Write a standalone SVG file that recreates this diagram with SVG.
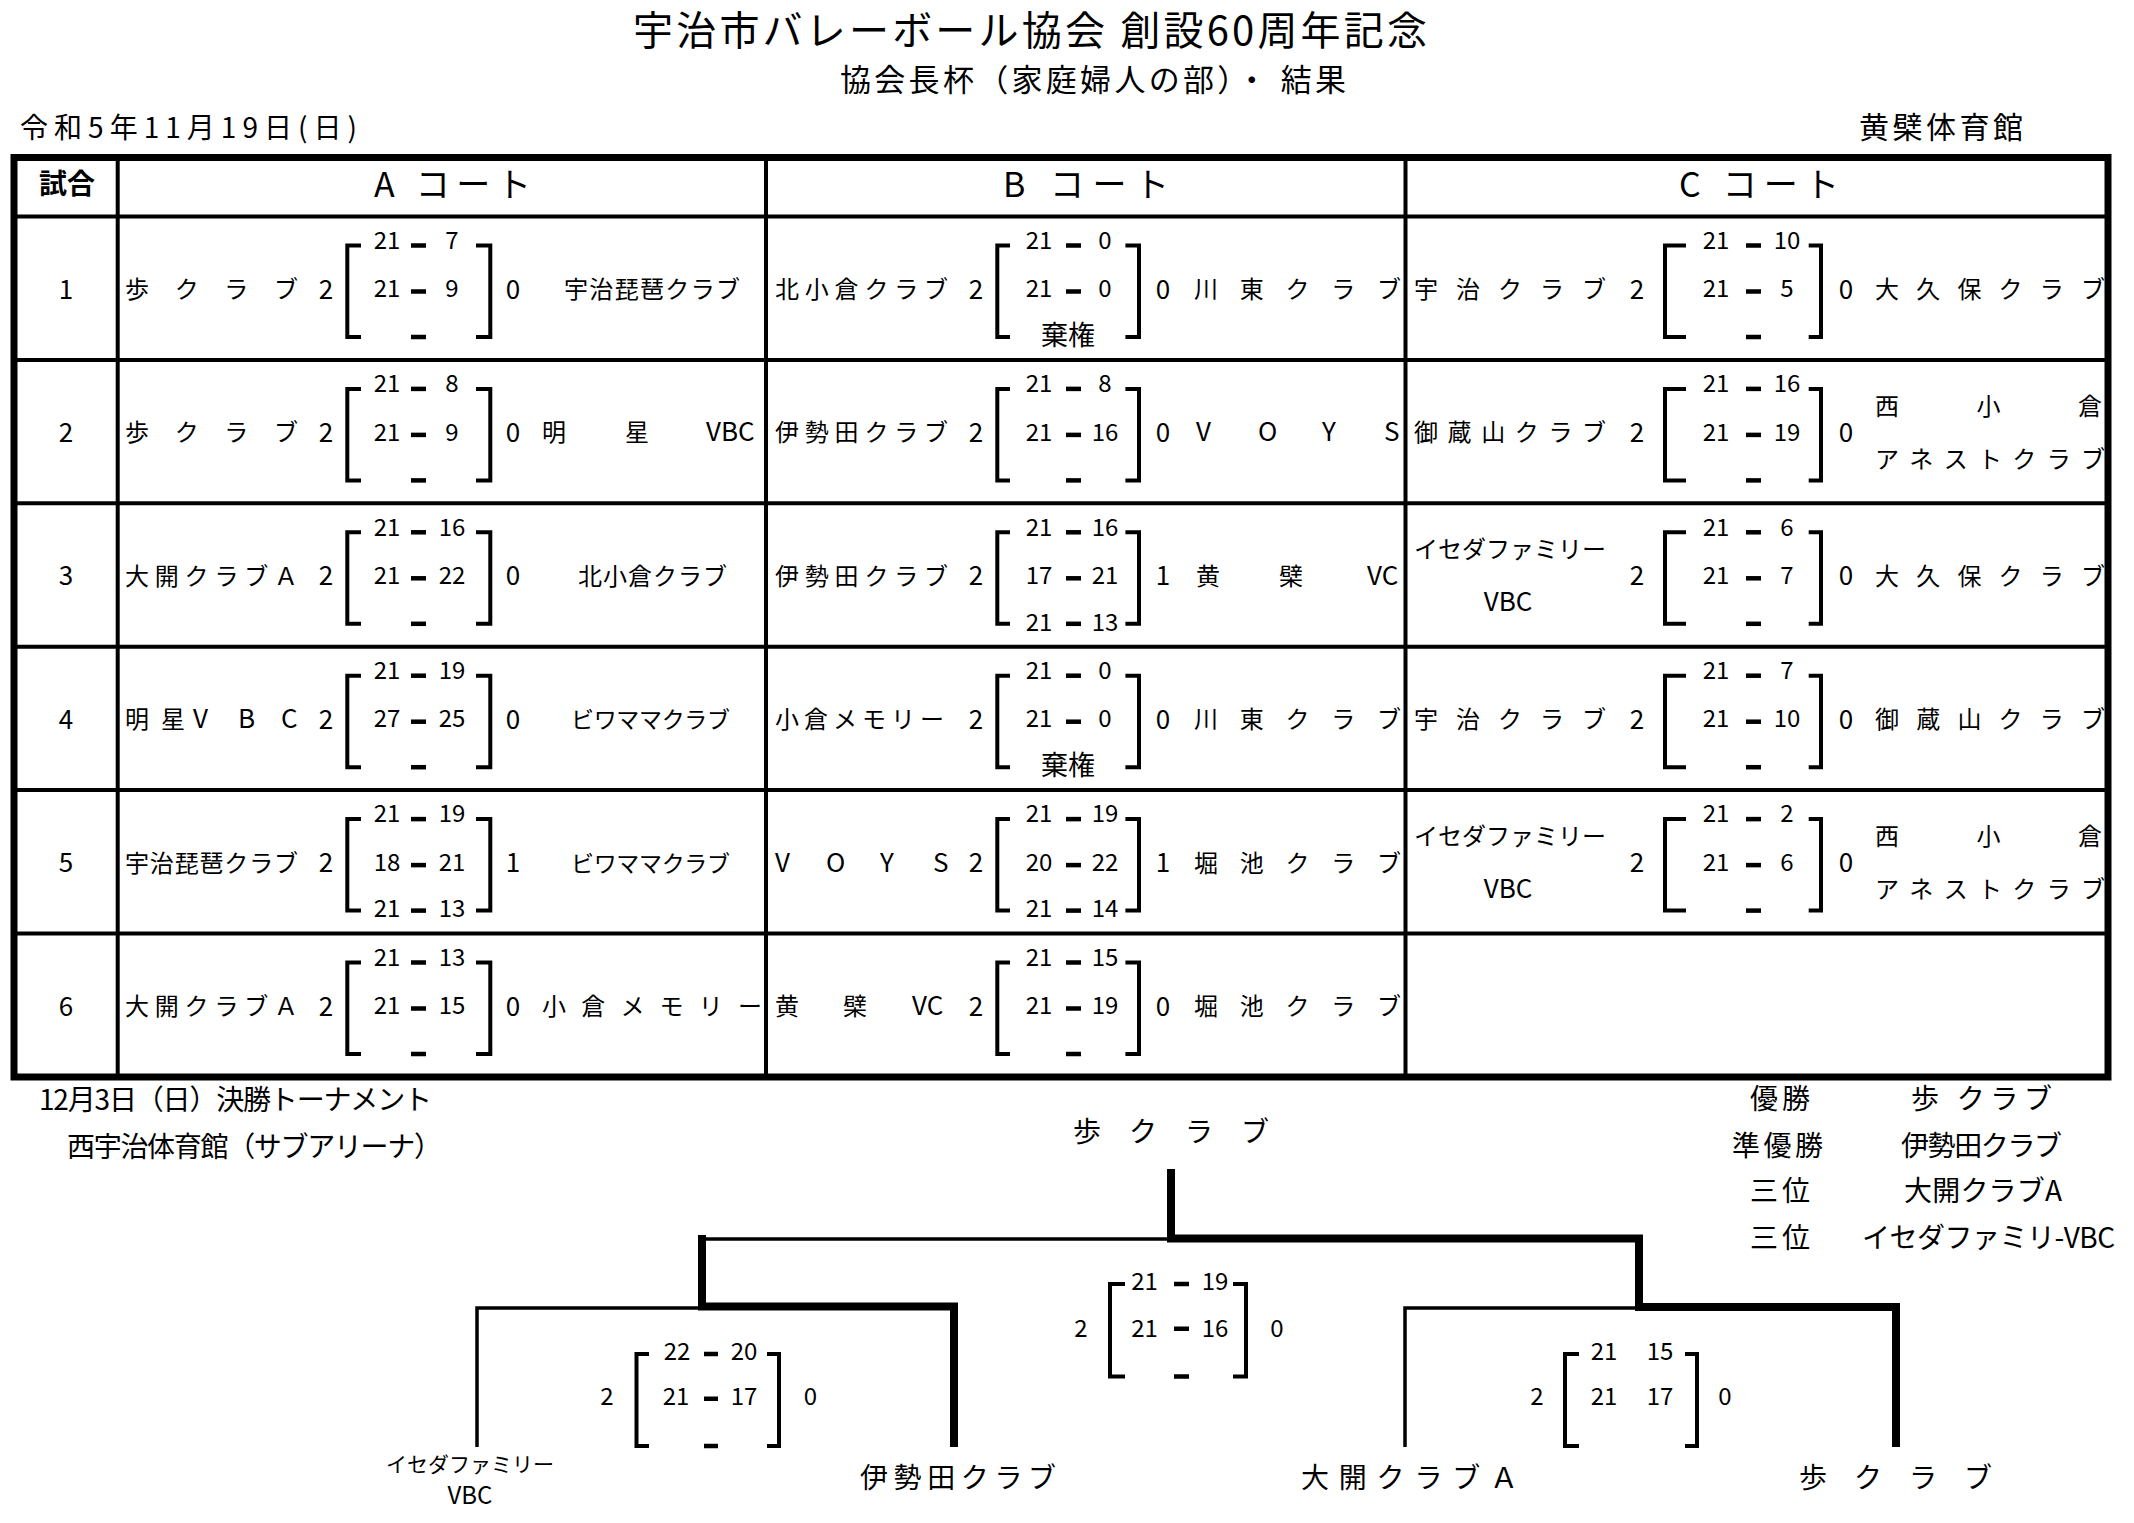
<svg xmlns="http://www.w3.org/2000/svg" xmlns:xlink="http://www.w3.org/1999/xlink" width="2134" height="1523" viewBox="0 0 2134 1523">
<style>
text{font-family:"Noto Sans CJK JP","Liberation Sans",sans-serif;fill:#000}
.nm{font-size:24px}
.sc{font-size:24px;text-anchor:middle}
.rs{font-size:26px;text-anchor:middle}
.lat{font-size:26px}
.br{fill:none;stroke:#000;stroke-width:4}
.d{fill:#000}
.grid{stroke:#000;stroke-width:4;fill:none}
.outer{stroke:#000;stroke-width:7;fill:none}
.thin{fill:none;stroke:#000;stroke-width:3.5}
.thick{fill:none;stroke:#000;stroke-width:8;stroke-linecap:square}
.hd{font-size:34px}
.bt{font-size:28px}
</style>
<defs>
<rect id="dash" class="d" width="15" height="4.5"/>
<path id="brA" class="br" d="M361 29H347.3V120.5H361M476 29H490.3V120.5H476"/>
<path id="brB" class="br" d="M1010 29H997.3V120.5H1010M1125.4 29H1139V120.5H1125.4"/>
<path id="brC" class="br" d="M1686 29H1665V120.5H1686M1808.7 29H1821V120.5H1808.7"/>
</defs>
<rect width="2134" height="1523" fill="#fff"/>

<g id="titles">
<text x="633" y="45" style="font-size:40px" textLength="794">宇治市バレーボール協会 創設60周年記念</text>
<text x="840" y="90.8" style="font-size:31px" textLength="506">協会長杯（家庭婦人の部）・ 結果</text>
<text x="20" y="137.6" class="bt" textLength="337">令和5年11月19日(日)</text>
<text x="1859" y="138" style="font-size:30px" textLength="164">黄檗体育館</text>
</g>

<g id="table-grid">
<rect class="outer" x="14" y="157.5" width="2094" height="919.5"/>
<path class="grid" d="M14 216.5H2108M14 359.9H2108M14 503.3H2108M14 646.7H2108M14 790.1H2108M14 933.5H2108M117.7 157.5V1077M766 157.5V1077M1405.5 157.5V1077"/>
</g>

<g id="header">
<text x="67" y="193.5" style="font-size:28px;font-weight:bold" text-anchor="middle">試合</text>
<text x="374" y="197" class="hd" textLength="157">A コート</text>
<text x="1003" y="197" class="hd" textLength="166">B コート</text>
<text x="1679" y="197" class="hd" textLength="160">C コート</text>
</g>

<g id="row1" transform="translate(0,216.5)">
<text class="rs" x="66" y="82">1</text>
<g id="m-A1">
<text class="nm" x="125" y="81.6" textLength="173">歩クラブ</text>
<text class="rs" x="326" y="82">2</text>
<use xlink:href="#brA"/>
<text class="sc" x="387" y="32.3">21</text><use xlink:href="#dash" x="411" y="26.75"/><text class="sc" x="452" y="32.3">7</text>
<text class="sc" x="387" y="80.8">21</text><use xlink:href="#dash" x="411" y="72.75"/><text class="sc" x="452" y="80.8">9</text>
<use xlink:href="#dash" x="411" y="118.25"/>
<text class="rs" x="513" y="82">0</text>
<text class="nm" x="564" y="81.6" textLength="176">宇治琵琶クラブ</text>
</g>
<g id="m-B1">
<text class="nm" x="775" y="81.6" textLength="173">北小倉クラブ</text>
<text class="rs" x="976" y="82">2</text>
<use xlink:href="#brB"/>
<text class="sc" x="1039" y="32.3">21</text><use xlink:href="#dash" x="1066" y="26.75"/><text class="sc" x="1105" y="32.3">0</text>
<text class="sc" x="1039" y="80.8">21</text><use xlink:href="#dash" x="1066" y="72.75"/><text class="sc" x="1105" y="80.8">0</text>
<text x="1068" y="128.3" style="font-size:27px" text-anchor="middle">棄権</text>
<text class="rs" x="1163" y="82">0</text>
<text class="nm" x="1194" y="81.6" textLength="207">川東クラブ</text>
</g>
<g id="m-C1">
<text class="nm" x="1414" y="81.6" textLength="192">宇治クラブ</text>
<text class="rs" x="1637" y="82">2</text>
<use xlink:href="#brC"/>
<text class="sc" x="1716" y="32.3">21</text><use xlink:href="#dash" x="1746" y="26.75"/><text class="sc" x="1787" y="32.3">10</text>
<text class="sc" x="1716" y="80.8">21</text><use xlink:href="#dash" x="1746" y="72.75"/><text class="sc" x="1787" y="80.8">5</text>
<use xlink:href="#dash" x="1746" y="118.25"/>
<text class="rs" x="1846" y="82">0</text>
<text class="nm" x="1875" y="81.6" textLength="230">大久保クラブ</text>
</g>
</g>

<g id="row2" transform="translate(0,359.9)">
<text class="rs" x="66" y="82">2</text>
<g id="m-A2">
<text class="nm" x="125" y="81.6" textLength="173">歩クラブ</text>
<text class="rs" x="326" y="82">2</text>
<use xlink:href="#brA"/>
<text class="sc" x="387" y="32.3">21</text><use xlink:href="#dash" x="411" y="26.75"/><text class="sc" x="452" y="32.3">8</text>
<text class="sc" x="387" y="80.8">21</text><use xlink:href="#dash" x="411" y="72.75"/><text class="sc" x="452" y="80.8">9</text>
<use xlink:href="#dash" x="411" y="118.25"/>
<text class="rs" x="513" y="82">0</text>
<text class="nm" x="542 625" y="81.6">明星<tspan class="lat" x="706">VBC</tspan></text>
</g>
<g id="m-B2">
<text class="nm" x="775" y="81.6" textLength="173">伊勢田クラブ</text>
<text class="rs" x="976" y="82">2</text>
<use xlink:href="#brB"/>
<text class="sc" x="1039" y="32.3">21</text><use xlink:href="#dash" x="1066" y="26.75"/><text class="sc" x="1105" y="32.3">8</text>
<text class="sc" x="1039" y="80.8">21</text><use xlink:href="#dash" x="1066" y="72.75"/><text class="sc" x="1105" y="80.8">16</text>
<use xlink:href="#dash" x="1066" y="118.25"/>
<text class="rs" x="1163" y="82">0</text>
<text class="lat" x="1196 1258 1322 1384" y="81.6">VOYS</text>
</g>
<g id="m-C2">
<text class="nm" x="1414" y="81.6" textLength="192">御蔵山クラブ</text>
<text class="rs" x="1637" y="82">2</text>
<use xlink:href="#brC"/>
<text class="sc" x="1716" y="32.3">21</text><use xlink:href="#dash" x="1746" y="26.75"/><text class="sc" x="1787" y="32.3">16</text>
<text class="sc" x="1716" y="80.8">21</text><use xlink:href="#dash" x="1746" y="72.75"/><text class="sc" x="1787" y="80.8">19</text>
<use xlink:href="#dash" x="1746" y="118.25"/>
<text class="rs" x="1846" y="82">0</text>
<text class="nm" x="1875" y="55" textLength="227">西小倉</text>
<text class="nm" x="1875" y="108" textLength="230">アネストクラブ</text>
</g>
</g>

<g id="row3" transform="translate(0,503.3)">
<text class="rs" x="66" y="82">3</text>
<g id="m-A3">
<text class="nm" x="125" y="81.6" textLength="173">大開クラブＡ</text>
<text class="rs" x="326" y="82">2</text>
<use xlink:href="#brA"/>
<text class="sc" x="387" y="32.3">21</text><use xlink:href="#dash" x="411" y="26.75"/><text class="sc" x="452" y="32.3">16</text>
<text class="sc" x="387" y="80.8">21</text><use xlink:href="#dash" x="411" y="72.75"/><text class="sc" x="452" y="80.8">22</text>
<use xlink:href="#dash" x="411" y="118.25"/>
<text class="rs" x="513" y="82">0</text>
<text class="nm" x="578" y="81.6" textLength="149">北小倉クラブ</text>
</g>
<g id="m-B3">
<text class="nm" x="775" y="81.6" textLength="173">伊勢田クラブ</text>
<text class="rs" x="976" y="82">2</text>
<use xlink:href="#brB"/>
<text class="sc" x="1039" y="32.3">21</text><use xlink:href="#dash" x="1066" y="26.75"/><text class="sc" x="1105" y="32.3">16</text>
<text class="sc" x="1039" y="80.8">17</text><use xlink:href="#dash" x="1066" y="72.75"/><text class="sc" x="1105" y="80.8">21</text>
<text class="sc" x="1039" y="127.3">21</text><use xlink:href="#dash" x="1066" y="118.25"/><text class="sc" x="1105" y="127.3">13</text>
<text class="rs" x="1163" y="82">1</text>
<text class="nm" x="1196 1279" y="81.6">黄檗<tspan class="lat" x="1367">VC</tspan></text>
</g>
<g id="m-C3">
<text class="nm" x="1414" y="55" textLength="192">イセダファミリー</text>
<text class="lat" x="1508" y="108" text-anchor="middle">VBC</text>
<text class="rs" x="1637" y="82">2</text>
<use xlink:href="#brC"/>
<text class="sc" x="1716" y="32.3">21</text><use xlink:href="#dash" x="1746" y="26.75"/><text class="sc" x="1787" y="32.3">6</text>
<text class="sc" x="1716" y="80.8">21</text><use xlink:href="#dash" x="1746" y="72.75"/><text class="sc" x="1787" y="80.8">7</text>
<use xlink:href="#dash" x="1746" y="118.25"/>
<text class="rs" x="1846" y="82">0</text>
<text class="nm" x="1875" y="81.6" textLength="230">大久保クラブ</text>
</g>
</g>

<g id="row4" transform="translate(0,646.7)">
<text class="rs" x="66" y="82">4</text>
<g id="m-A4">
<text class="nm" x="125 161" y="81.6">明星<tspan class="lat" x="193 238 281">VBC</tspan></text>
<text class="rs" x="326" y="82">2</text>
<use xlink:href="#brA"/>
<text class="sc" x="387" y="32.3">21</text><use xlink:href="#dash" x="411" y="26.75"/><text class="sc" x="452" y="32.3">19</text>
<text class="sc" x="387" y="80.8">27</text><use xlink:href="#dash" x="411" y="72.75"/><text class="sc" x="452" y="80.8">25</text>
<use xlink:href="#dash" x="411" y="118.25"/>
<text class="rs" x="513" y="82">0</text>
<text class="nm" x="571" y="81.6" style="font-size:23px" textLength="159">ビワママクラブ</text>
</g>
<g id="m-B4">
<text class="nm" x="775" y="81.6" textLength="169">小倉メモリー</text>
<text class="rs" x="976" y="82">2</text>
<use xlink:href="#brB"/>
<text class="sc" x="1039" y="32.3">21</text><use xlink:href="#dash" x="1066" y="26.75"/><text class="sc" x="1105" y="32.3">0</text>
<text class="sc" x="1039" y="80.8">21</text><use xlink:href="#dash" x="1066" y="72.75"/><text class="sc" x="1105" y="80.8">0</text>
<text x="1068" y="128.3" style="font-size:27px" text-anchor="middle">棄権</text>
<text class="rs" x="1163" y="82">0</text>
<text class="nm" x="1194" y="81.6" textLength="207">川東クラブ</text>
</g>
<g id="m-C4">
<text class="nm" x="1414" y="81.6" textLength="192">宇治クラブ</text>
<text class="rs" x="1637" y="82">2</text>
<use xlink:href="#brC"/>
<text class="sc" x="1716" y="32.3">21</text><use xlink:href="#dash" x="1746" y="26.75"/><text class="sc" x="1787" y="32.3">7</text>
<text class="sc" x="1716" y="80.8">21</text><use xlink:href="#dash" x="1746" y="72.75"/><text class="sc" x="1787" y="80.8">10</text>
<use xlink:href="#dash" x="1746" y="118.25"/>
<text class="rs" x="1846" y="82">0</text>
<text class="nm" x="1875" y="81.6" textLength="230">御蔵山クラブ</text>
</g>
</g>

<g id="row5" transform="translate(0,790.1)">
<text class="rs" x="66" y="82">5</text>
<g id="m-A5">
<text class="nm" x="125" y="81.6" textLength="173">宇治琵琶クラブ</text>
<text class="rs" x="326" y="82">2</text>
<use xlink:href="#brA"/>
<text class="sc" x="387" y="32.3">21</text><use xlink:href="#dash" x="411" y="26.75"/><text class="sc" x="452" y="32.3">19</text>
<text class="sc" x="387" y="80.8">18</text><use xlink:href="#dash" x="411" y="72.75"/><text class="sc" x="452" y="80.8">21</text>
<text class="sc" x="387" y="127.3">21</text><use xlink:href="#dash" x="411" y="118.25"/><text class="sc" x="452" y="127.3">13</text>
<text class="rs" x="513" y="82">1</text>
<text class="nm" x="571" y="81.6" style="font-size:23px" textLength="159">ビワママクラブ</text>
</g>
<g id="m-B5">
<text class="lat" x="775 826 880 933" y="81.6">VOYS</text>
<text class="rs" x="976" y="82">2</text>
<use xlink:href="#brB"/>
<text class="sc" x="1039" y="32.3">21</text><use xlink:href="#dash" x="1066" y="26.75"/><text class="sc" x="1105" y="32.3">19</text>
<text class="sc" x="1039" y="80.8">20</text><use xlink:href="#dash" x="1066" y="72.75"/><text class="sc" x="1105" y="80.8">22</text>
<text class="sc" x="1039" y="127.3">21</text><use xlink:href="#dash" x="1066" y="118.25"/><text class="sc" x="1105" y="127.3">14</text>
<text class="rs" x="1163" y="82">1</text>
<text class="nm" x="1194" y="81.6" textLength="207">堀池クラブ</text>
</g>
<g id="m-C5">
<text class="nm" x="1414" y="55" textLength="192">イセダファミリー</text>
<text class="lat" x="1508" y="108" text-anchor="middle">VBC</text>
<text class="rs" x="1637" y="82">2</text>
<use xlink:href="#brC"/>
<text class="sc" x="1716" y="32.3">21</text><use xlink:href="#dash" x="1746" y="26.75"/><text class="sc" x="1787" y="32.3">2</text>
<text class="sc" x="1716" y="80.8">21</text><use xlink:href="#dash" x="1746" y="72.75"/><text class="sc" x="1787" y="80.8">6</text>
<use xlink:href="#dash" x="1746" y="118.25"/>
<text class="rs" x="1846" y="82">0</text>
<text class="nm" x="1875" y="55" textLength="227">西小倉</text>
<text class="nm" x="1875" y="108" textLength="230">アネストクラブ</text>
</g>
</g>

<g id="row6" transform="translate(0,933.5)">
<text class="rs" x="66" y="82">6</text>
<g id="m-A6">
<text class="nm" x="125" y="81.6" textLength="173">大開クラブＡ</text>
<text class="rs" x="326" y="82">2</text>
<use xlink:href="#brA"/>
<text class="sc" x="387" y="32.3">21</text><use xlink:href="#dash" x="411" y="26.75"/><text class="sc" x="452" y="32.3">13</text>
<text class="sc" x="387" y="80.8">21</text><use xlink:href="#dash" x="411" y="72.75"/><text class="sc" x="452" y="80.8">15</text>
<use xlink:href="#dash" x="411" y="118.25"/>
<text class="rs" x="513" y="82">0</text>
<text class="nm" x="542" y="81.6" textLength="220">小倉メモリー</text>
</g>
<g id="m-B6">
<text class="nm" x="775 843" y="81.6">黄檗<tspan class="lat" x="912">VC</tspan></text>
<text class="rs" x="976" y="82">2</text>
<use xlink:href="#brB"/>
<text class="sc" x="1039" y="32.3">21</text><use xlink:href="#dash" x="1066" y="26.75"/><text class="sc" x="1105" y="32.3">15</text>
<text class="sc" x="1039" y="80.8">21</text><use xlink:href="#dash" x="1066" y="72.75"/><text class="sc" x="1105" y="80.8">19</text>
<use xlink:href="#dash" x="1066" y="118.25"/>
<text class="rs" x="1163" y="82">0</text>
<text class="nm" x="1194" y="81.6" textLength="207">堀池クラブ</text>
</g>
</g>

<g id="final-info">
<text x="39" y="1109.6" class="bt" textLength="393">12月3日（日）決勝トーナメント</text>
<text x="67" y="1156.6" class="bt" textLength="375">西宇治体育館（サブアリーナ）</text>
</g>

<g id="podium">
<text x="1750" y="1108.6" class="bt" textLength="60">優勝</text>
<text x="1911" y="1108.6" class="bt" textLength="141">歩 クラブ</text>
<text x="1732" y="1155.6" class="bt" textLength="91">準優勝</text>
<text x="1901" y="1155.6" class="bt" textLength="161">伊勢田クラブ</text>
<text x="1750" y="1200.6" class="bt" textLength="60">三位</text>
<text x="1904" y="1200.6" class="bt" textLength="158">大開クラブA</text>
<text x="1750" y="1247.6" class="bt" textLength="60">三位</text>
<text x="1862" y="1247.6" class="bt" textLength="253">イセダファミリ-VBC</text>
</g>

<g id="connectors">
<path class="thin" d="M477 1447V1308H702"/>
<path class="thin" d="M1405 1447V1308H1639"/>
<path class="thin" d="M702 1239H1171"/>
<path class="thick" d="M954 1443V1306.5H702V1239"/>
<path class="thick" d="M1896 1443V1307H1639V1238.5H1171V1173"/>
</g>

<g id="t-champion-top"><text x="1073" y="1141.6" class="bt" textLength="196">歩クラブ</text></g>
<g id="t-iseda"><text x="386" y="1472" style="font-size:21px" textLength="168">イセダファミリー</text><text x="470" y="1503.6" style="font-size:24px" text-anchor="middle">VBC</text></g>
<g id="t-isedaclub"><text x="860" y="1487.6" class="bt" textLength="196">伊勢田クラブ</text></g>
<g id="t-daikai"><text x="1301" y="1487.6" class="bt" textLength="217">大開クラブＡ</text></g>
<g id="t-ayumi"><text x="1799" y="1487.6" class="bt" textLength="193">歩クラブ</text></g>

<g id="semi-left">
<path class="br" d="M649 1354H636.5V1446H649M767 1354H779V1446H767"/>
<text class="sc" x="607" y="1405.3">2</text>
<text class="sc" x="677" y="1360.3">22</text><rect class="d" x="704" y="1351.75" width="14" height="4.5"/><text class="sc" x="744" y="1360.3">20</text>
<text class="sc" x="676" y="1405.3">21</text><rect class="d" x="704" y="1396.5" width="14" height="4.5"/><text class="sc" x="744" y="1405.3">17</text>
<rect class="d" x="704" y="1443.75" width="14" height="4.5"/>
<text class="sc" x="810.5" y="1405.3">0</text>
</g>

<g id="final">
<path class="br" d="M1125 1284H1110V1376.5H1125M1233 1284H1246V1376.5H1233"/>
<text class="sc" x="1081" y="1337.3">2</text>
<text class="sc" x="1144.5" y="1289.8">21</text><rect class="d" x="1174" y="1281.75" width="15" height="4.5"/><text class="sc" x="1215" y="1289.8">19</text>
<text class="sc" x="1144.5" y="1337.3">21</text><rect class="d" x="1174" y="1326.5" width="15" height="4.5"/><text class="sc" x="1215" y="1337.3">16</text>
<rect class="d" x="1174" y="1374.25" width="15" height="4.5"/>
<text class="sc" x="1277" y="1337.3">0</text>
</g>

<g id="semi-right">
<path class="br" d="M1579 1354H1565V1446H1579M1685 1354H1697V1446H1685"/>
<text class="sc" x="1537" y="1405.3">2</text>
<text class="sc" x="1604" y="1360.3">21</text><text class="sc" x="1660" y="1360.3">15</text>
<text class="sc" x="1604" y="1405.3">21</text><text class="sc" x="1660" y="1405.3">17</text>
<text class="sc" x="1725" y="1405.3">0</text>
</g>
</svg>
